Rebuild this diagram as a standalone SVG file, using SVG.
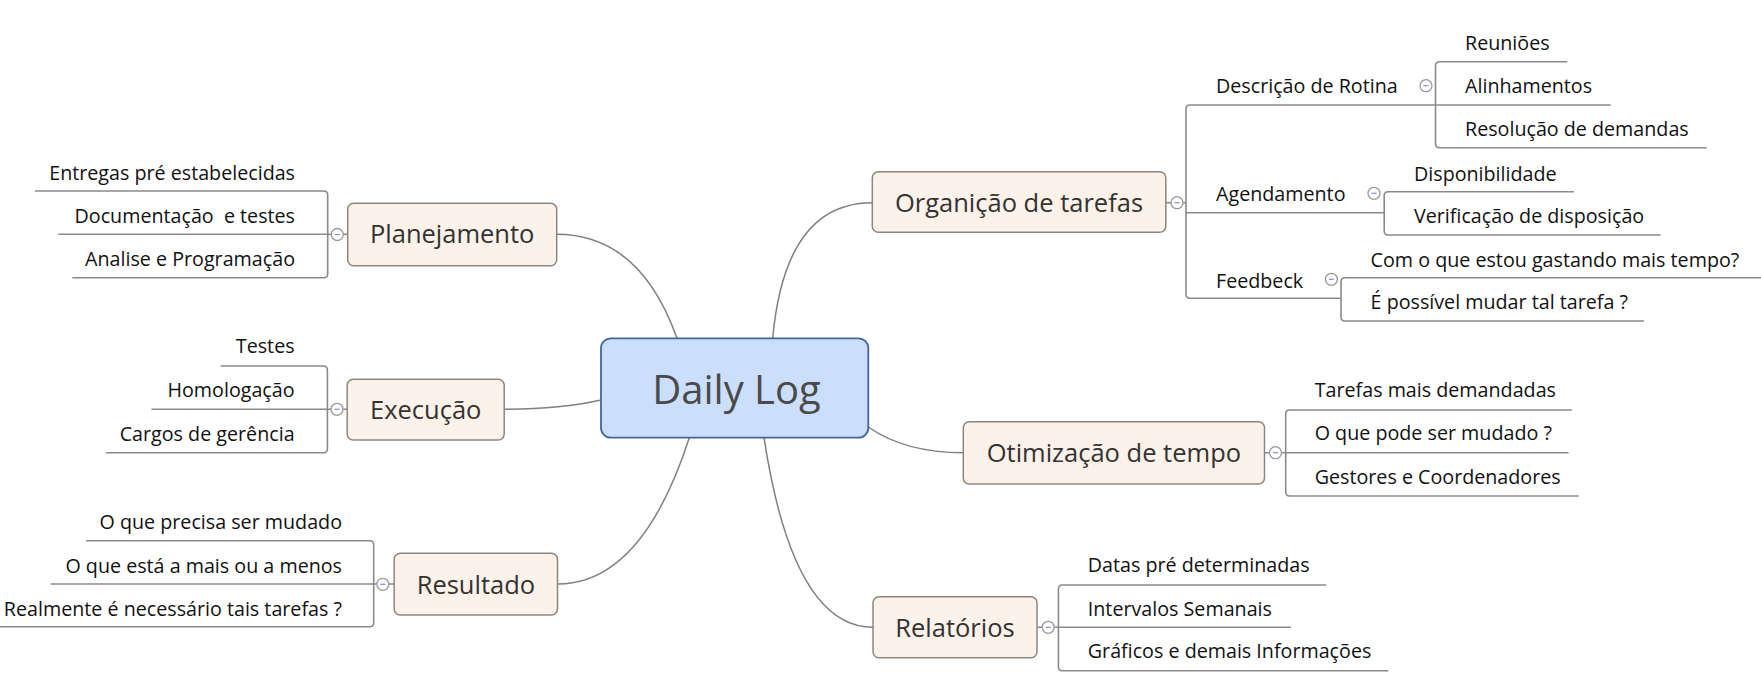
<svg xmlns="http://www.w3.org/2000/svg" width="1761" height="676" viewBox="0 0 1761 676">
<style>
  .bg{fill:#ffffff}
  .conn{fill:none;stroke:#808080;stroke-width:1.5}
  .ln{fill:none;stroke:#8a8a8a;stroke-width:1.6}
  .main{fill:#fdf2e9;stroke:#8d8680;stroke-width:1.5}
  .center{fill:#cbdffc;stroke:#46659a;stroke-width:1.8}
  .tmain{font-family:"Open Sans","Noto Sans",sans-serif;font-size:25.5px;fill:#333333;text-anchor:middle}
  .tcenter{font-family:"Open Sans","Noto Sans",sans-serif;font-size:40px;fill:#4a4a4a;text-anchor:middle}
  .tsub{font-family:"Open Sans","Noto Sans",sans-serif;font-size:19.7px;fill:#111111}
  .end{text-anchor:end}
  .cc{fill:#ffffff;stroke:#9a9a9a;stroke-width:1.3}
  .cm{stroke:#7b8fd6;stroke-width:1.2}
</style>
<rect class="bg" x="0" y="0" width="1761" height="676"/>

<g id="connectors">
  <path class="conn" d="M677 338.3 Q640 234.3 556.6 234.3"/>
  <path class="conn" d="M601 400 Q560 409.3 504.2 409.3"/>
  <path class="conn" d="M689.3 437.7 Q642 584 557.5 584"/>
  <path class="conn" d="M772.7 338.3 Q785 202.7 872.3 202.7"/>
  <path class="conn" d="M868.3 427 Q905 452.7 963.3 452.7"/>
  <path class="conn" d="M764 437.7 Q793 627.3 873 627.3"/>
</g>

<g id="node-daily-log">
  <rect class="center" x="601" y="338.3" width="267.3" height="99.4" rx="10"/>
  <text class="tcenter" x="736.5" y="404.3">Daily Log</text>
</g>

<g id="node-planejamento">
  <path class="ln" d="M347.7 234.3 L327.7 234.3"/>
  <path class="ln" d="M35 191 L323.7 191 Q327.7 191 327.7 195 L327.7 273.7 Q327.7 277.7 323.7 277.7 L72.3 277.7"/>
  <path class="ln" d="M58.3 234.3 L327.7 234.3"/>
  <rect class="main" x="347.7" y="203.3" width="209" height="62.4" rx="6"/>
  <text class="tmain" x="452.2" y="243">Planejamento</text>
  <circle class="cc" cx="337.3" cy="234.5" r="6"/>
  <line class="cm" x1="334.8" y1="234.5" x2="339.8" y2="234.5"/>
  <text class="tsub end" x="295" y="180">Entregas pré estabelecidas</text>
  <text class="tsub end" x="295" y="222.7" xml:space="preserve">Documentação  e testes</text>
  <text class="tsub end" x="295" y="266">Analise e Programação</text>
</g>

<g id="node-execucao">
  <path class="ln" d="M220.6 366 L323.4 366 Q327.4 366 327.4 370 L327.4 448.7 Q327.4 452.7 323.4 452.7 L106 452.7"/>
  <path class="ln" d="M151.4 409.3 L347.2 409.3"/>
  <rect class="main" x="347.2" y="379.3" width="157" height="60.7" rx="6"/>
  <text class="tmain" x="425.7" y="418.7">Execução</text>
  <circle class="cc" cx="337" cy="409.3" r="6"/>
  <line class="cm" x1="334.5" y1="409.3" x2="339.5" y2="409.3"/>
  <text class="tsub end" x="294.6" y="353.3">Testes</text>
  <text class="tsub end" x="294.6" y="397.3">Homologação</text>
  <text class="tsub end" x="294.6" y="440.7">Cargos de gerência</text>
</g>

<g id="node-resultado">
  <path class="ln" d="M86.2 540.7 L369.7 540.7 Q373.7 540.7 373.7 544.7 L373.7 622.7 Q373.7 626.7 369.7 626.7 L0 626.7"/>
  <path class="ln" d="M50.6 584 L394.2 584"/>
  <rect class="main" x="394.2" y="553.3" width="163.3" height="61.7" rx="6"/>
  <text class="tmain" x="475.9" y="594">Resultado</text>
  <circle class="cc" cx="382.8" cy="584.3" r="6"/>
  <line class="cm" x1="380.3" y1="584.3" x2="385.3" y2="584.3"/>
  <text class="tsub end" x="342" y="529.3">O que precisa ser mudado</text>
  <text class="tsub end" x="342" y="572.7">O que está a mais ou a menos</text>
  <text class="tsub end" x="342" y="616">Realmente é necessário tais tarefas ?</text>
</g>

<g id="node-organizacao">
  <path class="ln" d="M1165.8 202.7 L1186 202.7"/>
  <path class="ln" d="M1610.7 105 L1190 105 Q1186 105 1186 109 L1186 294.3 Q1186 298.3 1190 298.3 L1341 298.3"/>
  <path class="ln" d="M1186 212.7 L1384.2 212.7"/>
  <rect class="main" x="872.3" y="171.7" width="293.5" height="60.6" rx="6"/>
  <text class="tmain" x="1019" y="211.7">Organição de tarefas</text>
  <circle class="cc" cx="1177" cy="202.7" r="6"/>
  <line class="cm" x1="1174.5" y1="202.7" x2="1179.5" y2="202.7"/>
</g>

<g id="node-descricao">
  <text class="tsub" x="1216" y="93">Descrição de Rotina</text>
  <path class="ln" d="M1567.3 61.7 L1439.5 61.7 Q1435.5 61.7 1435.5 65.7 L1435.5 143.7 Q1435.5 147.7 1439.5 147.7 L1706.7 147.7"/>
  <circle class="cc" cx="1426" cy="85.7" r="6"/>
  <line class="cm" x1="1423.5" y1="85.7" x2="1428.5" y2="85.7"/>
  <text class="tsub" x="1465" y="50">Reuniões</text>
  <text class="tsub" x="1465" y="93.3">Alinhamentos</text>
  <text class="tsub" x="1465" y="136">Resolução de demandas</text>
</g>

<g id="node-agendamento">
  <text class="tsub" x="1216" y="201">Agendamento</text>
  <path class="ln" d="M1574 191.7 L1388.2 191.7 Q1384.2 191.7 1384.2 195.7 L1384.2 231 Q1384.2 235 1388.2 235 L1660.7 235"/>
  <circle class="cc" cx="1374" cy="193.3" r="6"/>
  <line class="cm" x1="1371.5" y1="193.3" x2="1376.5" y2="193.3"/>
  <text class="tsub" x="1414" y="180.7">Disponibilidade</text>
  <text class="tsub" x="1414" y="223.3">Verificação de disposição</text>
</g>

<g id="node-feedbeck">
  <text class="tsub" x="1216" y="288.3">Feedbeck</text>
  <path class="ln" d="M1761 277.7 L1345 277.7 Q1341 277.7 1341 281.7 L1341 317 Q1341 321 1345 321 L1644 321"/>
  <circle class="cc" cx="1331.4" cy="279.3" r="6"/>
  <line class="cm" x1="1328.9" y1="279.3" x2="1333.9" y2="279.3"/>
  <text class="tsub" x="1370.6" y="266.7">Com o que estou gastando mais tempo?</text>
  <text class="tsub" x="1370.6" y="309.3">É possível mudar tal tarefa ?</text>
</g>

<g id="node-otimizacao">
  <path class="ln" d="M1264.5 452.7 L1568.6 452.7"/>
  <path class="ln" d="M1571.8 410 L1289.7 410 Q1285.7 410 1285.7 414 L1285.7 492 Q1285.7 496 1289.7 496 L1578.8 496"/>
  <rect class="main" x="963.3" y="421.7" width="301.2" height="62.3" rx="6"/>
  <text class="tmain" x="1113.9" y="461.7">Otimização de tempo</text>
  <circle class="cc" cx="1275.5" cy="452.7" r="6"/>
  <line class="cm" x1="1273" y1="452.7" x2="1278" y2="452.7"/>
  <text class="tsub" x="1314.7" y="397.3">Tarefas mais demandadas</text>
  <text class="tsub" x="1314.7" y="440">O que pode ser mudado ?</text>
  <text class="tsub" x="1314.7" y="484">Gestores e Coordenadores</text>
</g>

<g id="node-relatorios">
  <path class="ln" d="M1037 627.3 L1291 627.3"/>
  <path class="ln" d="M1326 585 L1062.4 585 Q1058.4 585 1058.4 589 L1058.4 666.7 Q1058.4 670.7 1062.4 670.7 L1388.2 670.7"/>
  <rect class="main" x="873" y="596.7" width="164" height="61" rx="6"/>
  <text class="tmain" x="955" y="636.5">Relatórios</text>
  <circle class="cc" cx="1048.2" cy="627.3" r="6"/>
  <line class="cm" x1="1045.7" y1="627.3" x2="1050.7" y2="627.3"/>
  <text class="tsub" x="1087.8" y="571.7">Datas pré determinadas</text>
  <text class="tsub" x="1087.8" y="615.7">Intervalos Semanais</text>
  <text class="tsub" x="1087.8" y="658.3">Gráficos e demais Informações</text>
</g>
</svg>
